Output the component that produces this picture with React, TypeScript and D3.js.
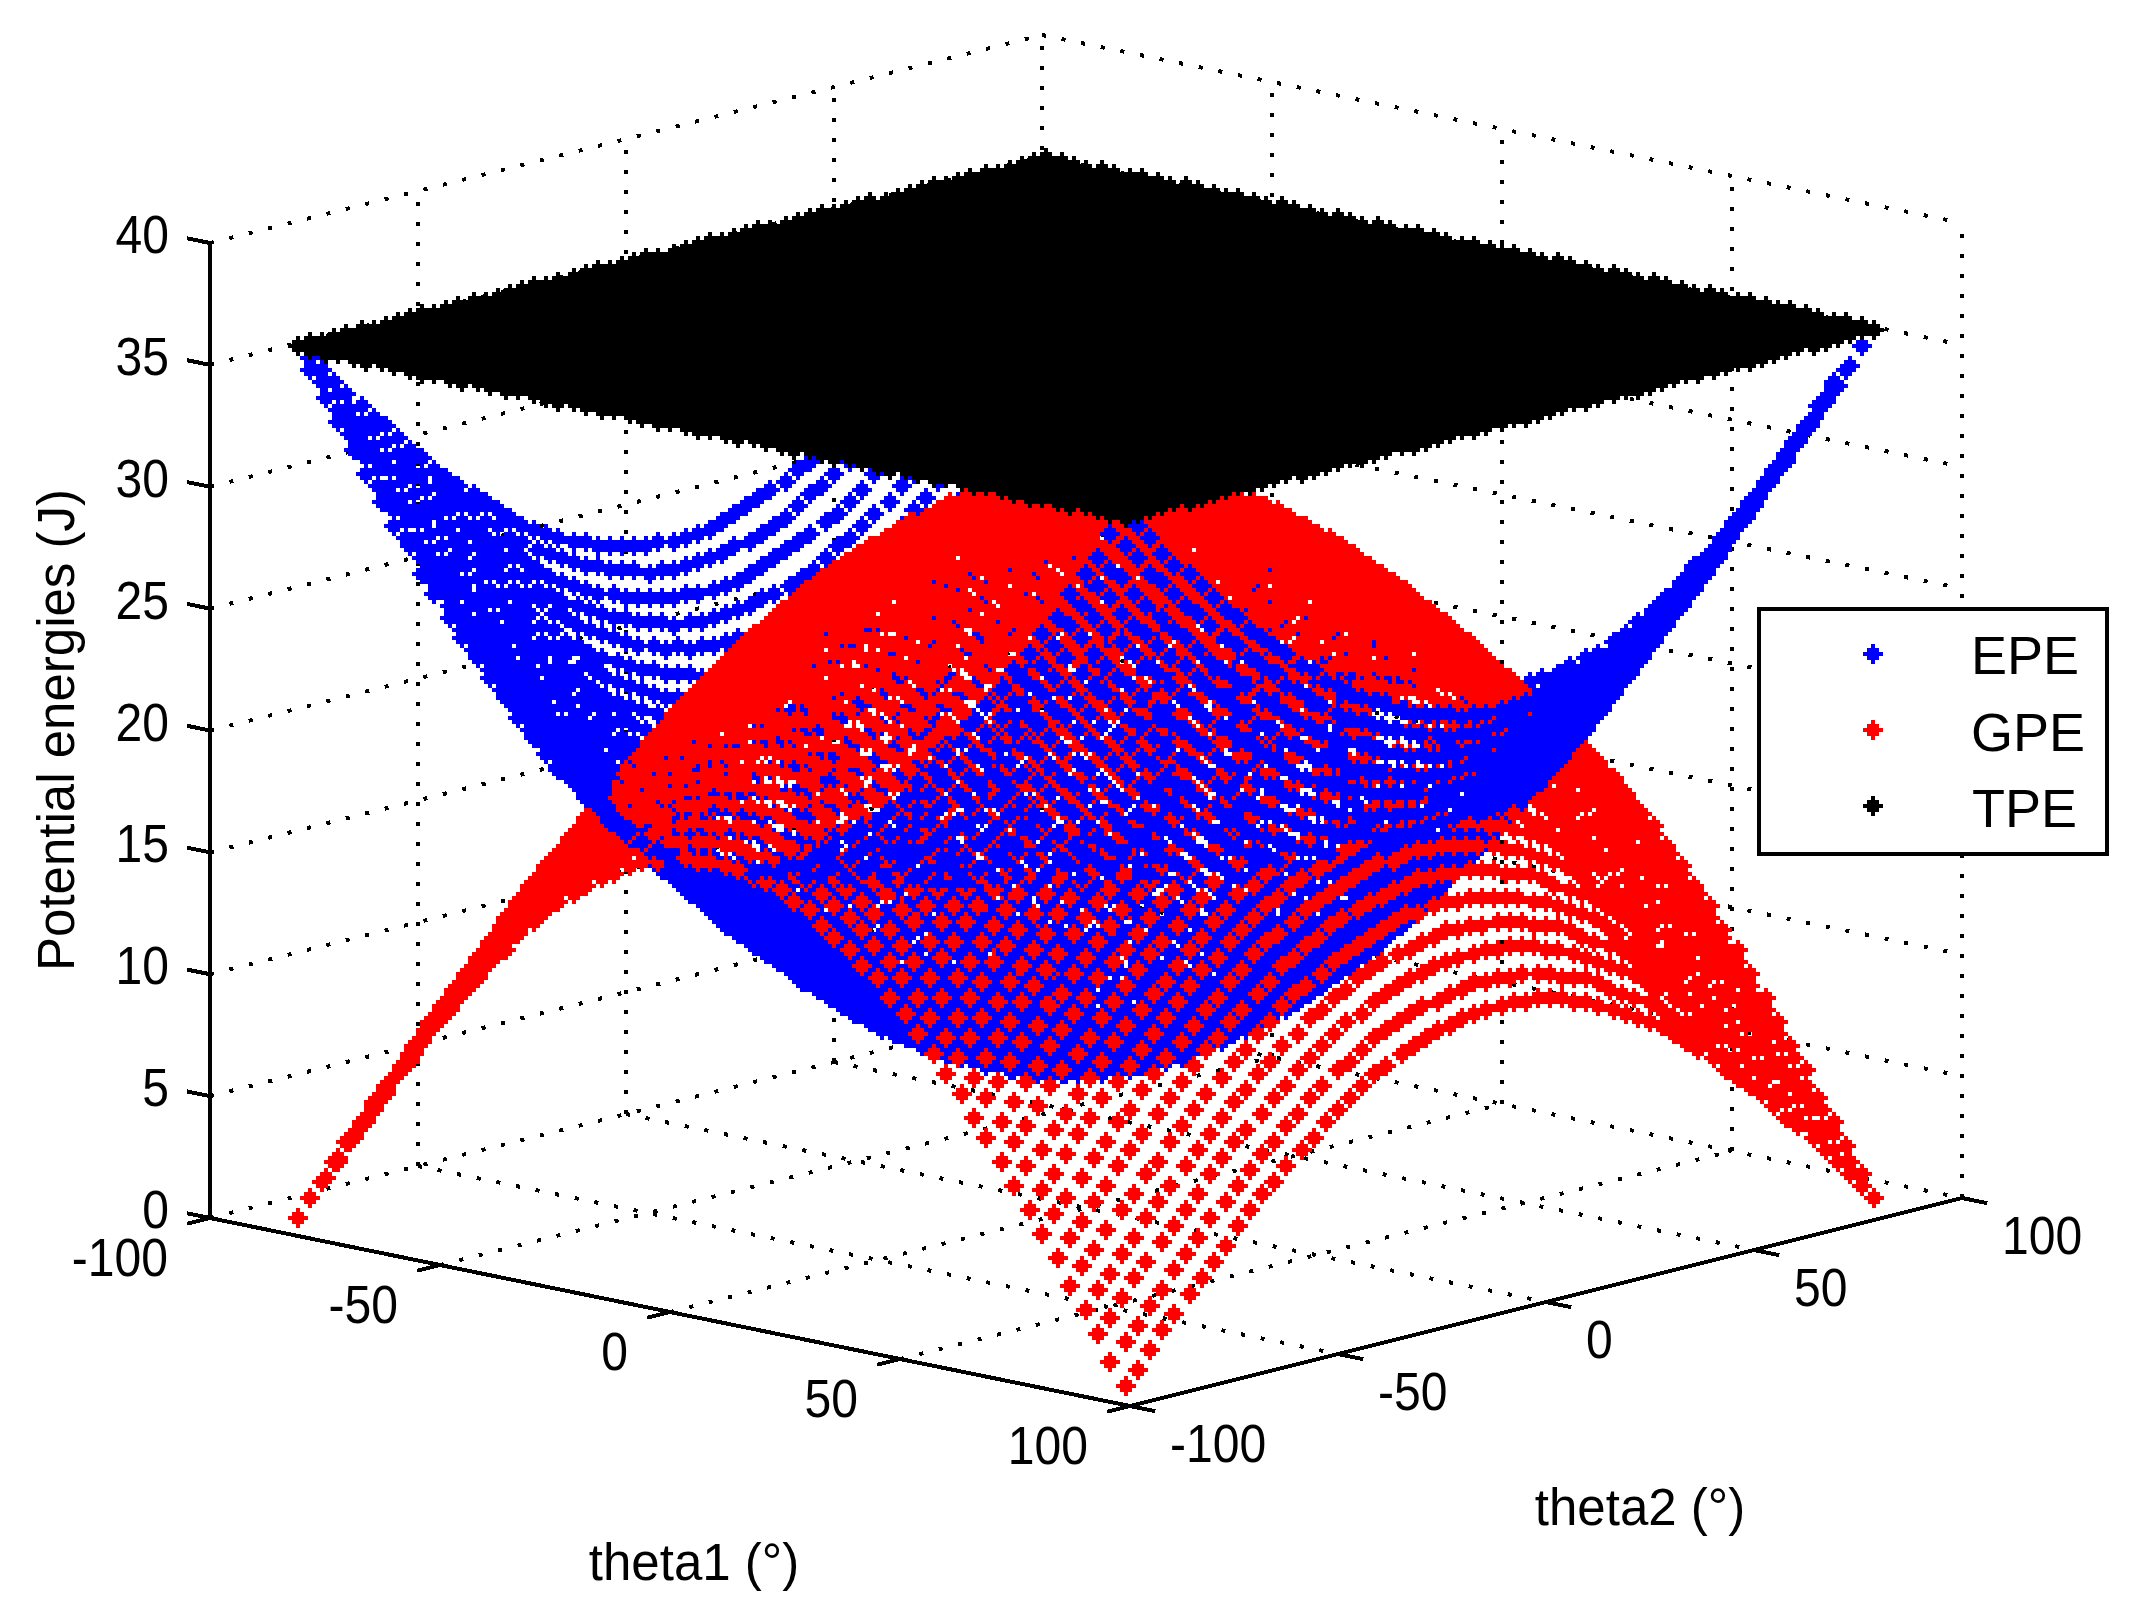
import React, { useEffect, useRef } from 'react';
import * as d3 from 'd3';

// Ticks on the three axes
const thetaTicks = [-100, -50, 0, 50, 100];
const energyTicks = [0, 5, 10, 15, 20, 25, 30, 35, 40];

// GPE read along the picture's edges, one value per 3 degrees from -90 to 90.
// theta1Profile: the arc from the left corner to the front corner (theta2 = -90)
const theta1Profile = [
  0, 0.9, 1.9, 2.8, 3.7, 4.7, 5.6, 6.5, 7.3, 8.2, 9.0, 9.8, 10.6, 11.3, 12.0, 12.7, 13.4, 14.0, 14.6, 15.1, 15.6,
  16.0, 16.4, 16.8, 17.1, 17.4, 17.6, 17.8, 17.9, 18.0, 18.0, 18.0, 17.9, 17.8, 17.6, 17.4, 17.1, 16.8, 16.4, 16.0,
  15.6, 15.1, 14.6, 14.0, 13.4, 12.7, 12.0, 11.3, 10.6, 9.8, 9.0, 8.2, 7.3, 6.5, 5.6, 4.7, 3.7, 2.8, 1.9, 0.9, 0,
];
// theta2Profile: the arc from the front corner to the right corner (theta1 = 90)
const theta2Profile = [
  0, 0.6, 1.2, 1.9, 2.5, 3.1, 3.7, 4.2, 4.8, 5.4, 5.9, 6.4, 6.9, 7.4, 7.9, 8.3, 8.8, 9.2, 9.6, 9.9, 10.2,
  10.5, 10.8, 11.0, 11.2, 11.4, 11.5, 11.7, 11.7, 11.8, 11.8, 11.8, 11.7, 11.7, 11.5, 11.4, 11.2, 11.0, 10.8, 10.5,
  10.2, 9.9, 9.6, 9.2, 8.8, 8.3, 7.9, 7.4, 6.9, 6.4, 5.9, 5.4, 4.8, 4.2, 3.7, 3.1, 2.5, 1.9, 1.2, 0.6, 0,
];
// Height of the flat black sheet
const totalEnergy = 35.7;

const legendItems = [
  { name: 'EPE', color: '#0000ff' },
  { name: 'GPE', color: '#ff0000' },
  { name: 'TPE', color: '#000000' },
];

const WIDTH = 2148;
const HEIGHT = 1619;
const FONT = '"Liberation Sans", Arial, sans-serif';

// Corners of the axes box on the page
const leftCorner = { x: 210, y: 1218 };
const frontCorner = { x: 1130, y: 1406 };
const rightCorner = { x: 1962, y: 1198 };
const boxHeight = 975;

// Blocky marker, 5 source pixels across, each source pixel is 4px here
const MARKER = 'M-2,-10h4v4h4v4h4v4h-4v4h-4v4h-4v-4h-4v-4h-4v-4h4v-4h4z';
// The picture is a 4x enlargement, so marker centres sit on 4k+2
const snap = (v: number) => Math.round((v - 2) / 4) * 4 + 2;
// Tick digits are narrower than Liberation's at the same height
const DIGIT_SQUEEZE = 0.89;

const App = () => {
  const svgRef = useRef<SVGSVGElement | null>(null);

  useEffect(() => {
    const svg = d3.select(svgRef.current);
    svg.selectAll('*').remove();

    const uScale = d3.scaleLinear().domain([-100, 100]).range([0, 1]);
    const vScale = d3.scaleLinear().domain([-100, 100]).range([0, 1]);
    const zScale = d3.scaleLinear().domain([0, 40]).range([0, boxHeight]);

    const project = (t1: number, t2: number, z: number) => {
      const u = uScale(t1);
      const v = vScale(t2);
      return {
        x: leftCorner.x + u * (frontCorner.x - leftCorner.x) + v * (rightCorner.x - frontCorner.x),
        y: leftCorner.y + u * (frontCorner.y - leftCorner.y) + v * (rightCorner.y - frontCorner.y) - zScale(z),
      };
    };

    // Points closer to the viewer are painted later
    const depth = (t1: number, t2: number, z: number) =>
      uScale(t1) - 1.108 * vScale(t2) + 0.431 * (z / 40);

    const addLine = (g: any, a: any, b: any, dotted: boolean) => {
      g.append('line')
        .attr('x1', a.x)
        .attr('y1', a.y)
        .attr('x2', b.x)
        .attr('y2', b.y)
        .attr('stroke', '#000')
        .attr('stroke-width', 4)
        .attr('stroke-dasharray', dotted ? '4 16' : null);
    };

    // Dotted grid on floor and back walls
    const grid = svg.append('g').attr('shape-rendering', 'crispEdges');
    thetaTicks.forEach((t) => {
      addLine(grid, project(t, -100, 0), project(t, 100, 0), true);
      addLine(grid, project(-100, t, 0), project(100, t, 0), true);
      addLine(grid, project(-100, t, 0), project(-100, t, 40), true);
      addLine(grid, project(t, 100, 0), project(t, 100, 40), true);
    });
    energyTicks.forEach((z) => {
      addLine(grid, project(-100, -100, z), project(-100, 100, z), true);
      addLine(grid, project(-100, 100, z), project(100, 100, z), true);
    });

    // Axis lines and tick stubs
    const axes = svg.append('g').attr('shape-rendering', 'crispEdges');
    addLine(axes, project(-100, -100, 0), project(100, -100, 0), false);
    addLine(axes, project(100, -100, 0), project(100, 100, 0), false);
    addLine(axes, project(-100, -100, 0), project(-100, -100, 40), false);
    thetaTicks.forEach((t) => {
      addLine(axes, project(t, -100, 0), project(t, -105.5, 0), false);
      addLine(axes, project(100, t, 0), project(105.5, t, 0), false);
    });
    energyTicks.forEach((z) => {
      addLine(axes, project(-100, -100, z), project(-105, -100, z), false);
    });

    // Build the three series on the 3 degree grid
    const thetaGrid = d3.range(-90, 91, 3);
    const marks: { t1: number; t2: number; z: number; color: string; d: number }[] = [];
    thetaGrid.forEach((t1, i) => {
      thetaGrid.forEach((t2, j) => {
        const gpe = theta1Profile[i] + theta2Profile[j];
        const epe = totalEnergy - gpe;
        [
          { z: epe, color: legendItems[0].color },
          { z: gpe, color: legendItems[1].color },
          { z: totalEnergy, color: legendItems[2].color },
        ].forEach((m) => marks.push({ t1, t2, z: m.z, color: m.color, d: depth(t1, t2, m.z) }));
      });
    });
    marks.sort((a, b) => a.d - b.d);

    svg.append('g')
      .attr('shape-rendering', 'crispEdges')
      .selectAll('path')
      .data(marks)
      .enter()
      .append('path')
      .attr('d', MARKER)
      .attr('fill', (d) => d.color)
      .attr('transform', (d) => {
        const p = project(d.t1, d.t2, d.z);
        return `translate(${snap(p.x)},${snap(p.y)})`;
      });

    // Tick labels
    const labels = svg.append('g')
      .attr('font-family', FONT)
      .attr('font-size', 54)
      .attr('fill', '#000');

    const addTick = (x: number, y: number, anchor: string, value: number) => {
      labels.append('text')
        .attr('transform', `translate(${x},${y}) scale(${DIGIT_SQUEEZE},1)`)
        .attr('text-anchor', anchor)
        .text(value);
    };

    energyTicks.forEach((z) => {
      const p = project(-100, -100, z);
      addTick(p.x - 41, p.y + 10, 'end', z);
    });
    thetaTicks.forEach((t) => {
      const p1 = project(t, -100, 0);
      addTick(p1.x - 42, p1.y + 58, 'end', t);
      const p2 = project(100, t, 0);
      addTick(p2.x + 40, p2.y + 56, 'start', t);
    });

    // Axis titles
    const titles = svg.append('g')
      .attr('font-family', FONT)
      .attr('font-size', 51)
      .attr('fill', '#000');
    titles.append('text').attr('x', 694).attr('y', 1580).attr('text-anchor', 'middle').text('theta1 (°)');
    titles.append('text').attr('x', 1640).attr('y', 1525).attr('text-anchor', 'middle').text('theta2 (°)');
    titles.append('text')
      .attr('transform', 'translate(74,730) rotate(-90)')
      .attr('text-anchor', 'middle')
      .text('Potential energies (J)');

    // Legend
    const legend = svg.append('g');
    legend.append('rect')
      .attr('x', 1759)
      .attr('y', 609)
      .attr('width', 348)
      .attr('height', 245)
      .attr('fill', '#fff')
      .attr('stroke', '#000')
      .attr('stroke-width', 4)
      .attr('shape-rendering', 'crispEdges');
    legendItems.forEach((item, i) => {
      const cy = 653 + i * 76.5;
      legend.append('path')
        .attr('d', MARKER)
        .attr('fill', item.color)
        .attr('shape-rendering', 'crispEdges')
        .attr('transform', `translate(1873,${snap(cy)})`);
      legend.append('text')
        .attr('x', i === 2 ? 1972 : 1971)
        .attr('y', cy + 21)
        .attr('font-family', FONT)
        .attr('font-size', 54)
        .attr('fill', '#000')
        .text(item.name);
    });
  }, []);

  return (
    <svg
      ref={svgRef}
      width={WIDTH}
      height={HEIGHT}
      style={{ position: 'absolute', left: 0, top: 0, background: '#fff' }}
    />
  );
};

export default App;
